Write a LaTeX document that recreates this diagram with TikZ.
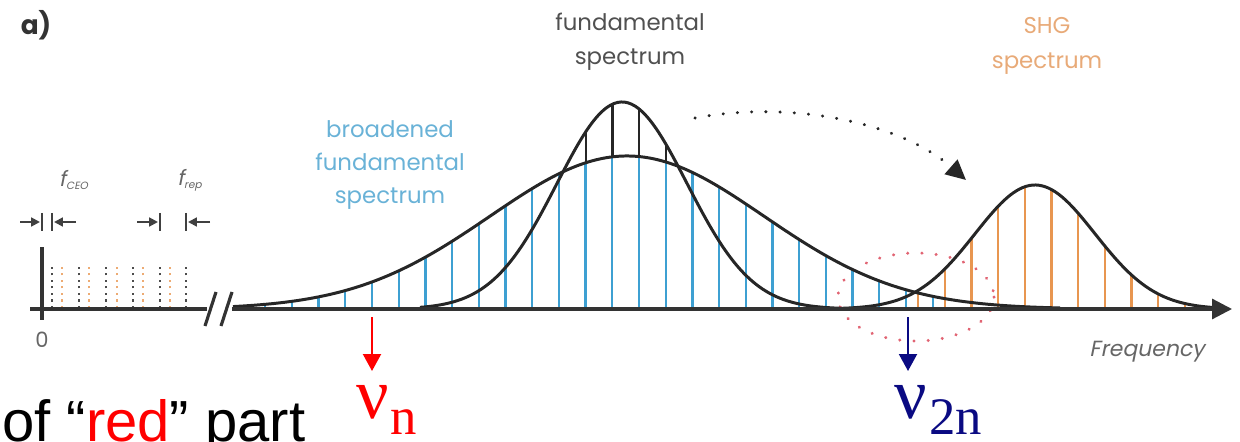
\documentclass[tikz,border=0pt]{standalone}
\usepackage{fontspec}
\usepackage{xcolor}
\usepackage{tikz}
\usetikzlibrary{arrows.meta}
\newfontfamily\gothic{Poppins}
\newfontfamily\gothicsl[FakeSlant=0.2]{Poppins}
\newfontfamily\arialfont{Liberation Sans}
\newfontfamily\seriffont{Liberation Serif}
\definecolor{combblue}{RGB}{62,160,210}
\definecolor{textblue}{RGB}{105,178,215}
\definecolor{comborange}{RGB}{232,150,80}
\definecolor{textorange}{RGB}{232,170,120}
\definecolor{fundgray}{RGB}{80,80,80}
\definecolor{dotred}{RGB}{225,100,115}
\definecolor{nunavy}{RGB}{10,10,130}
\newcommand{\gapmark}[4]{% left arrow start, first bar, second bar, right arrow start
  \draw[gap] (#1,222) -- (#2-2,222);
  \draw[bar] (#2,213) -- (#2,231);
  \draw[bar] (#3,213) -- (#3,231);
  \draw[gap] (#4,222) -- (#3+2,222);}

\begin{document}
\begin{tikzpicture}[x=0.02cm, y=-0.02cm,
  curve/.style={line width=1.7pt, black!85},
  axisline/.style={line width=1.8pt, black!80},
  bluecomb/.style={line width=1.3pt, combblue},
  orangecomb/.style={line width=1.3pt, comborange},
  topcomb/.style={line width=1.3pt, black!85},
  dotcomb/.style={line width=1.7pt, dash pattern=on 1.4pt off 2.3pt},
  gap/.style={-{Triangle[length=5pt,width=5pt]}, line width=1.1pt, black!75},
  bar/.style={line width=1.4pt, black!75},
  spectext/.style={font=\gothic\fontsize{13}{19.5}\selectfont, align=center},
  nuarrow/.style={-{Triangle[length=0.34cm,width=0.36cm]}, line width=1.2pt},
  dotarrow/.style={line width=1.8pt, line cap=round, dash pattern=on 0.1pt off 8pt, -{Triangle[length=0.4cm,width=0.38cm]}},
  declare function={
    broad(\x)=309-153*exp(-0.5*((\x-627)/137)*((\x-627)/137));
    narrow(\x)=309-207*exp(-0.5*((\x-622)/65)*((\x-622)/65));
    shg(\x)=309-124*exp(-0.5*((\x-1035)/60)*((\x-1035)/60));}
]
\useasboundingbox (0,0) rectangle (1240,442);
\clip (0,0) rectangle (1240,442);

% panel label
\node[font=\gothic\bfseries\fontsize{15}{18}\selectfont, text=black!80] (panel) at (36,25) {a)};

% comb near zero
\foreach \xx in {52,79,106,133,160,186}
  \draw[dotcomb, black!70] (\xx,308) -- (\xx,265);
\foreach \xx in {62,89,117,143,170}
  \draw[dotcomb, comborange!80] (\xx,308) -- (\xx,265);
\draw[axisline] (42,247) -- (42,320);
\draw[axisline] (30,309) -- (207,309);
\draw[axisline] (205,326) -- (216,292);
\draw[axisline] (221,326) -- (232,292);
\node[font=\gothic\fontsize{12}{14}\selectfont, text=black!60] (zero) at (42,340) {0};

% offset and repetition marks
\gapmark{20}{42}{52}{76}
\gapmark{137}{160}{186}{210}
\node[font=\gothicsl\fontsize{12}{14}\selectfont, text=black!60] (fceo) at (74,180) {f\textsubscript{\fontsize{6}{7}\selectfont CEO}};
\node[font=\gothicsl\fontsize{12}{14}\selectfont, text=black!60] (frep) at (190,180) {f\textsubscript{\fontsize{6}{7}\selectfont rep}};

% red dotted region
\draw[dotred, line width=1.8pt, line cap=round, dash pattern=on 0.1pt off 8pt] (916,297) ellipse [x radius=78, y radius=44];

% comb lines
\foreach \k in {-4,...,21} {
  \pgfmathsetmacro{\xx}{372+26.7*\k}
  \draw[bluecomb] (\xx,309) -- (\xx,{broad(\xx)});
}
\foreach \xx in {585.9,612.6,639.3,666}
  \draw[topcomb] (\xx,{broad(\xx)}) -- (\xx,{narrow(\xx)});
\foreach \k in {0,...,10} {
  \pgfmathsetmacro{\xx}{918+26.7*\k}
  \draw[orangecomb] (\xx,309) -- (\xx,{shg(\xx)});
}

% spectra
\draw[curve] plot[domain=233:1060, samples=160, smooth] (\x,{broad(\x)});
\draw[curve] plot[domain=420:840, samples=120, smooth] (\x,{narrow(\x)});
\draw[curve] plot[domain=840:1222, samples=120, smooth] (\x,{shg(\x)});
\draw[axisline, -{Triangle[length=0.4cm,width=0.4cm]}] (232,309) -- (1232,309);

% texts
\node[spectext, text=fundgray] (fund) at (630,42) {fundamental\\spectrum};
\node[spectext, text=textblue, font=\gothic\fontsize{13}{19}\selectfont] (broadtxt) at (390,165) {broadened\\fundamental\\spectrum};
\node[spectext, text=textorange] (shgtxt) at (1047,46) {SHG\\spectrum};
\node[font=\gothicsl\fontsize{12.5}{15}\selectfont, text=black!60] (freq) at (1147,352) {Frequency};

% doubling arrow
\coordinate (ds) at (695,118);
\coordinate (de) at (966,180);
\draw[dotarrow, black!85] (ds) .. controls (790,100) and (900,122) .. (de);

% marked frequencies
\coordinate (rtop) at (372,317);
\coordinate (rtip) at (372,371);
\coordinate (btop) at (908,317);
\coordinate (btip) at (908,371);
\draw[nuarrow, red] (rtop) -- (rtip);
\draw[nuarrow, nunavy] (btop) -- (btip);
\node[anchor=base, inner sep=0pt, text=red, font=\seriffont\fontsize{41}{45}\selectfont] (nun) at (373,418) {ν};
\node[anchor=base west, inner sep=0pt, text=red, font=\seriffont\fontsize{30}{34}\selectfont] (nunsub) at (390,434) {n};
\node[anchor=base, inner sep=0pt, text=nunavy, font=\seriffont\fontsize{41}{45}\selectfont] (nutwon) at (911,418) {ν};
\node[anchor=base west, inner sep=0pt, text=nunavy, font=\seriffont\fontsize{30}{34}\selectfont] (nutwonsub) at (929,434) {2n};
\node[anchor=base west, inner sep=0pt, font=\arialfont\fontsize{33}{38}\selectfont] (redpart) at (2,441) {of “\textcolor{red}{red}” part};
\end{tikzpicture}
\end{document}
